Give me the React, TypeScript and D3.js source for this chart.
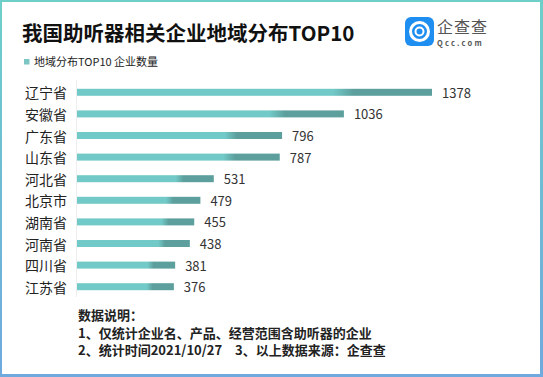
import React from "react";
import * as d3 from "d3";

const categories = ["辽宁省", "安徽省", "广东省", "山东省", "河北省", "北京市", "湖南省", "河南省", "四川省", "江苏省"];
const values = [1378, 1036, 796, 787, 531, 479, 455, 438, 381, 376];
const title = "我国助听器相关企业地域分布TOP10";
const legendLabel = "地域分布TOP10 企业数量";
const notes = [
  ["数据说明："],
  ["1、仅统计企业名、产品、经营范围含助听器的企业"],
  ["2、统计时间2021/10/27", "3、以上数据来源：企查查"],
];

const W = 543;
const H = 377;
const FONT = "'Noto Sans CJK SC', 'Noto Sans', sans-serif";

export default function App() {
  const x = d3.scaleLinear().domain([0, 1378]).range([77, 432]);
  const y = d3.scaleBand<string>().domain(categories).range([81.5, 297.5]).paddingInner(0.68).paddingOuter(0.34);
  const bh = 7;
  return (
    <svg width={W} height={H} style={{ position: "absolute", left: 0, top: 0 }} fontFamily={FONT}>
      <defs>
        <linearGradient id="frame" x1="0" y1="0" x2="0" y2="1">
          <stop offset="0" stopColor="#6ecfc9" />
          <stop offset="1" stopColor="#6fa9de" />
        </linearGradient>
        <linearGradient id="bar" x1="0" y1="0" x2="1" y2="0">
          <stop offset="0" stopColor="#72cac8" />
          <stop offset="0.72" stopColor="#72cac8" />
          <stop offset="0.78" stopColor="#5c9f9d" />
          <stop offset="1" stopColor="#5c9f9d" />
        </linearGradient>
      </defs>
      <rect x={0} y={0} width={W} height={H} fill="url(#frame)" />
      <rect x={2} y={2} width={W - 5} height={H - 5} fill="#ffffff" />
      <text x={22} y={41} fontSize={20.5} fontWeight="bold" fill="#111">{title}</text>
      <rect x={24} y={59} width={5.5} height={5.5} fill="#7cc6c4" />
      <text x={34} y={66} fontSize={11} fill="#222">{legendLabel}</text>
      {/* logo */}
      <rect x={405} y={17} width={29} height={29} rx={6} fill="#1f8ef1" />
      <circle cx={419.5} cy={31.5} r={9} fill="none" stroke="#fff" strokeWidth={3} />
      <circle cx={419.5} cy={31.5} r={4} fill="none" stroke="#fff" strokeWidth={2} />
      <text x={437} y={33} fontSize={16} fill="#555" letterSpacing={1}>企查查</text>
      <text x={437} y={46} fontSize={7.5} fill="#555" letterSpacing={2.2} fontWeight="bold">Qcc.com</text>
      {/* axis line */}
      <line x1={76.5} x2={76.5} y1={80} y2={297} stroke="#eeeeee" strokeWidth={1} />
      {categories.map((c, i) => {
        const cy = (y(c) as number) + y.bandwidth() / 2;
        const v = values[i];
        return (
          <g key={c}>
            <text x={67} y={cy} fontSize={14} textAnchor="end" dominantBaseline="central" fill="#222">{c}</text>
            <rect x={x(0)} y={cy - bh / 2} width={x(v) - x(0)} height={bh} fill="url(#bar)" />
            <text x={x(v) + 10} y={cy} fontSize={13} dominantBaseline="central" fill="#333">{v}</text>
          </g>
        );
      })}
      {notes.map((parts, i) => (
        <text key={i} x={78} y={320 + i * 17.5} fontSize={13} fontWeight="bold" fill="#222">
          {parts.map((p, j) => (
            <tspan key={j} dx={j > 0 ? 13 : 0}>{p}</tspan>
          ))}
        </text>
      ))}
    </svg>
  );
}
